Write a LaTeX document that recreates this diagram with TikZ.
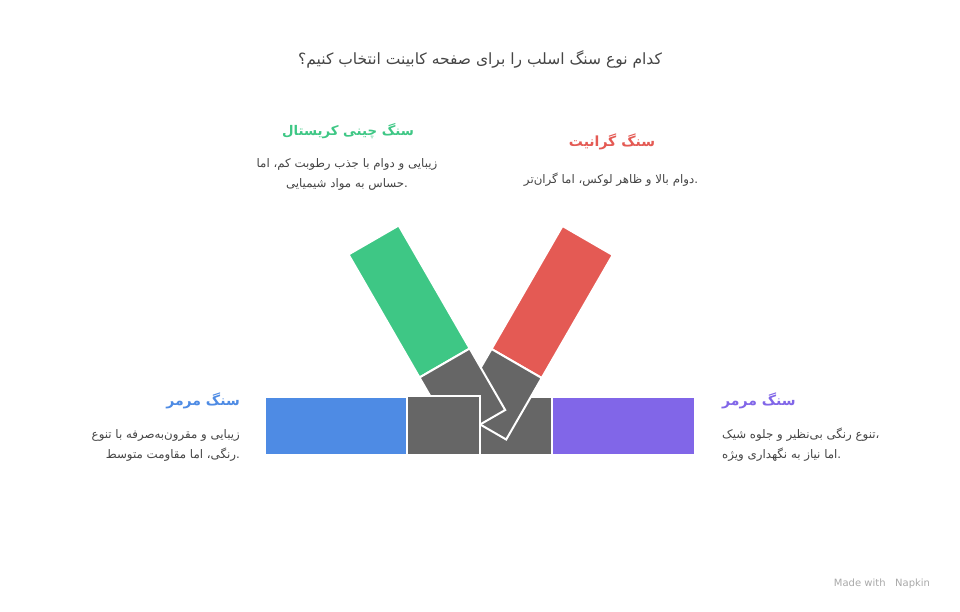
\documentclass[tikz,border=0pt]{standalone}
\usepackage{fontspec}
\setmainfont{DejaVu Sans}
\newfontfamily\arabicfont[Script=Arabic]{DejaVu Sans}
\TeXXeTstate=1
\usepackage{tikz}
\usetikzlibrary{positioning}
\definecolor{crystal}{HTML}{3EC785}
\definecolor{granite}{HTML}{E45A54}
\definecolor{marble}{HTML}{4E8BE4}
\definecolor{marbletwo}{HTML}{8166E8}
\definecolor{joint}{HTML}{666666}
\definecolor{textgray}{HTML}{454545}
\definecolor{markgray}{HTML}{A8A8A8}

\begin{document}
\begin{tikzpicture}
    [
    x=1pt, y=-1pt,
    title/.style={font=\arabicfont\fontsize{15.5}{18}\selectfont, text=textgray},
    head/.style={font=\arabicfont\bfseries\fontsize{14}{16}\selectfont, inner sep=0pt},
    desc/.style={font=\arabicfont\fontsize{11.8}{20}\selectfont, text=textgray, inner sep=0pt},
    block/.style={draw=white, line width=2pt, line join=miter},
    ]
    \useasboundingbox (0,0) rectangle (960,612);

    % bottom bar
    \filldraw [block, fill=marble] (265,397) rectangle (407,455);
    \filldraw [block, fill=marbletwo] (552,397) rectangle (695,455);
    \filldraw [block, fill=joint] (480,397) rectangle (552,455);

    % right arm
    \filldraw [block, fill=granite] (562.5,226) -- (612.7,255) -- (541.7,378) -- (491.5,349) -- cycle;
    \filldraw [block, fill=joint] (491.5,349) -- (541.7,378) -- (506.2,439.5) -- (456,410.5) -- cycle;

    % left arm
    \filldraw [block, fill=crystal] (348.5,254.5) -- (398.7,225.5) -- (469.7,348.5) -- (419.5,377.5) -- cycle;
    \filldraw [block, fill=joint] (419.5,377.5) -- (469.7,348.5) -- (505.2,410) -- (455,439) -- cycle;

    \filldraw [block, fill=joint] (407,396) rectangle (480,455);

    % texts
    \node (q) at (480,59) [title] {\beginR کدام نوع سنگ اسلب را برای صفحه کابینت انتخاب کنیم؟\endR};

    \node (h1) at (348,131) [head, text=crystal, font=\arabicfont\bfseries\fontsize{13.3}{16}\selectfont] {\beginR سنگ چینی کریستال\endR};
    \node (d1) at (347,174) [desc, align=center] {\beginR زیبایی و دوام با جذب رطوبت کم، اما\endR\\\beginR حساس به مواد شیمیایی\endR.};

    \node (h2) at (612,142) [head, text=granite] {\beginR سنگ گرانیت\endR};
    \node (d2) at (611,180) [desc] {\beginR دوام بالا و ظاهر لوکس، اما گران‌تر\endR.};

    \node (h3) at (240,401) [head, text=marble, anchor=east] {\beginR سنگ مرمر\endR};
    \node (d3) at (240,445) [desc, anchor=east, align=right] {\beginR زیبایی و مقرون‌به‌صرفه با تنوع\endR\\\beginR رنگی، اما مقاومت متوسط\endR.};

    \node (h4) at (722,401) [head, text=marbletwo, anchor=west] {\beginR سنگ مرمر\endR};
    \node (d4) at (722,445) [desc, anchor=west, align=left] {\beginR تنوع رنگی بی‌نظیر و جلوه شیک\endR،\\\beginR اما نیاز به نگهداری ویژه\endR.};

    \node (mark) at (882,584) [font=\fontsize{10}{12}\selectfont, text=markgray] {Made with \ \ Napkin};
  \end{tikzpicture}
\end{document}
